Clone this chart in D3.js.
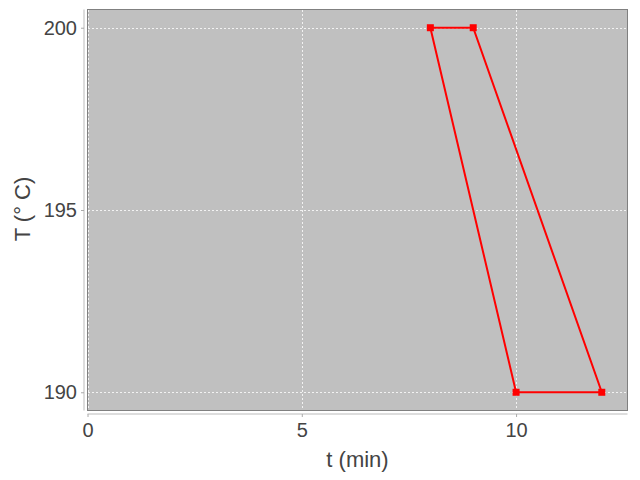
<!DOCTYPE html>
<html><head><meta charset="utf-8">
<script src="https://cdn.jsdelivr.net/npm/d3@7"></script>
<style>body{margin:0;background:#fff}svg{display:block}</style>
</head><body>
<svg id="c" width="640" height="480"></svg>
<script>
const tValues = [8, 9, 12, 10, 8];
const TValues = [200, 200, 190, 190, 200];
const xTicks = [0, 5, 10];
const yTicks = [190, 195, 200];
const xTitle = "t (min)";
const yTitle = "T (° C)";

const svg = d3.select("#c");
const L = 87.5, R = 627.5, T = 9.5, B = 410.5;
const x = d3.scaleLinear().domain([0, 12.6]).range([L, R]);
const y = d3.scaleLinear().domain([189.5, 200.5]).range([B, T]);
const font = "Liberation Sans, Arial, sans-serif";
const txt = "#444";

svg.append("rect").attr("x", L).attr("y", T).attr("width", R - L).attr("height", B - T)
  .attr("fill", "#c0c0c0").attr("stroke", "#808080").attr("stroke-width", 1);

// grid
svg.append("g").selectAll("line").data(xTicks).join("line")
  .attr("x1", d => Math.round(x(d)) + 0.5).attr("x2", d => Math.round(x(d)) + 0.5)
  .attr("y1", T + 0.5).attr("y2", B - 0.5)
  .attr("stroke", "#fff").attr("stroke-width", 0.8).attr("stroke-dasharray", "2,2");
svg.append("g").selectAll("line").data(yTicks).join("line")
  .attr("y1", d => Math.round(y(d)) + 0.5).attr("y2", d => Math.round(y(d)) + 0.5)
  .attr("x1", L + 0.5).attr("x2", R - 0.5)
  .attr("stroke", "#fff").attr("stroke-width", 0.8).attr("stroke-dasharray", "2,2");

// axes
const xAxis = d3.axisBottom(x).tickValues(xTicks).tickSize(3).tickPadding(6).tickFormat(d3.format("d"));
const yAxis = d3.axisLeft(y).tickValues(yTicks).tickSize(3).tickPadding(4).tickFormat(d3.format("d"));
const gx = svg.append("g").attr("transform", `translate(0,${B + 3.5})`).call(xAxis);
const gy = svg.append("g").attr("transform", `translate(${L - 3.5},0)`).call(yAxis);
[gx, gy].forEach(g => {
  g.select(".domain").attr("stroke", "#ddd").attr("stroke-width", 2);
  g.selectAll(".tick line").attr("stroke", "#aaa");
  g.selectAll(".tick text").attr("fill", txt).attr("font-size", 20).attr("font-family", font);
});
gy.select(".domain").attr("d", `M0,${T}V${B}`);
gx.select(".domain").attr("d", `M${L},0H${R}`);

// titles
svg.append("text").attr("x", 357.5).attr("y", 467).attr("text-anchor", "middle")
  .attr("font-size", 22).attr("font-family", font).attr("fill", txt).text(xTitle);
svg.append("text").attr("transform", "translate(30,209) rotate(-90)").attr("text-anchor", "middle")
  .attr("font-size", 22).attr("font-family", font).attr("fill", txt).text(yTitle);

// data
const pts = tValues.map((t, i) => [t, TValues[i]]);
svg.append("path").datum(pts)
  .attr("d", d3.line().x(d => x(d[0])).y(d => y(d[1])))
  .attr("fill", "none").attr("stroke", "#ff0000").attr("stroke-width", 2);
svg.append("g").selectAll("rect").data(pts.slice(0, 4)).join("rect")
  .attr("x", d => x(d[0]) - 3.5).attr("y", d => y(d[1]) - 3.5)
  .attr("width", 7).attr("height", 7).attr("fill", "#ff0000");
</script>
</body></html>
